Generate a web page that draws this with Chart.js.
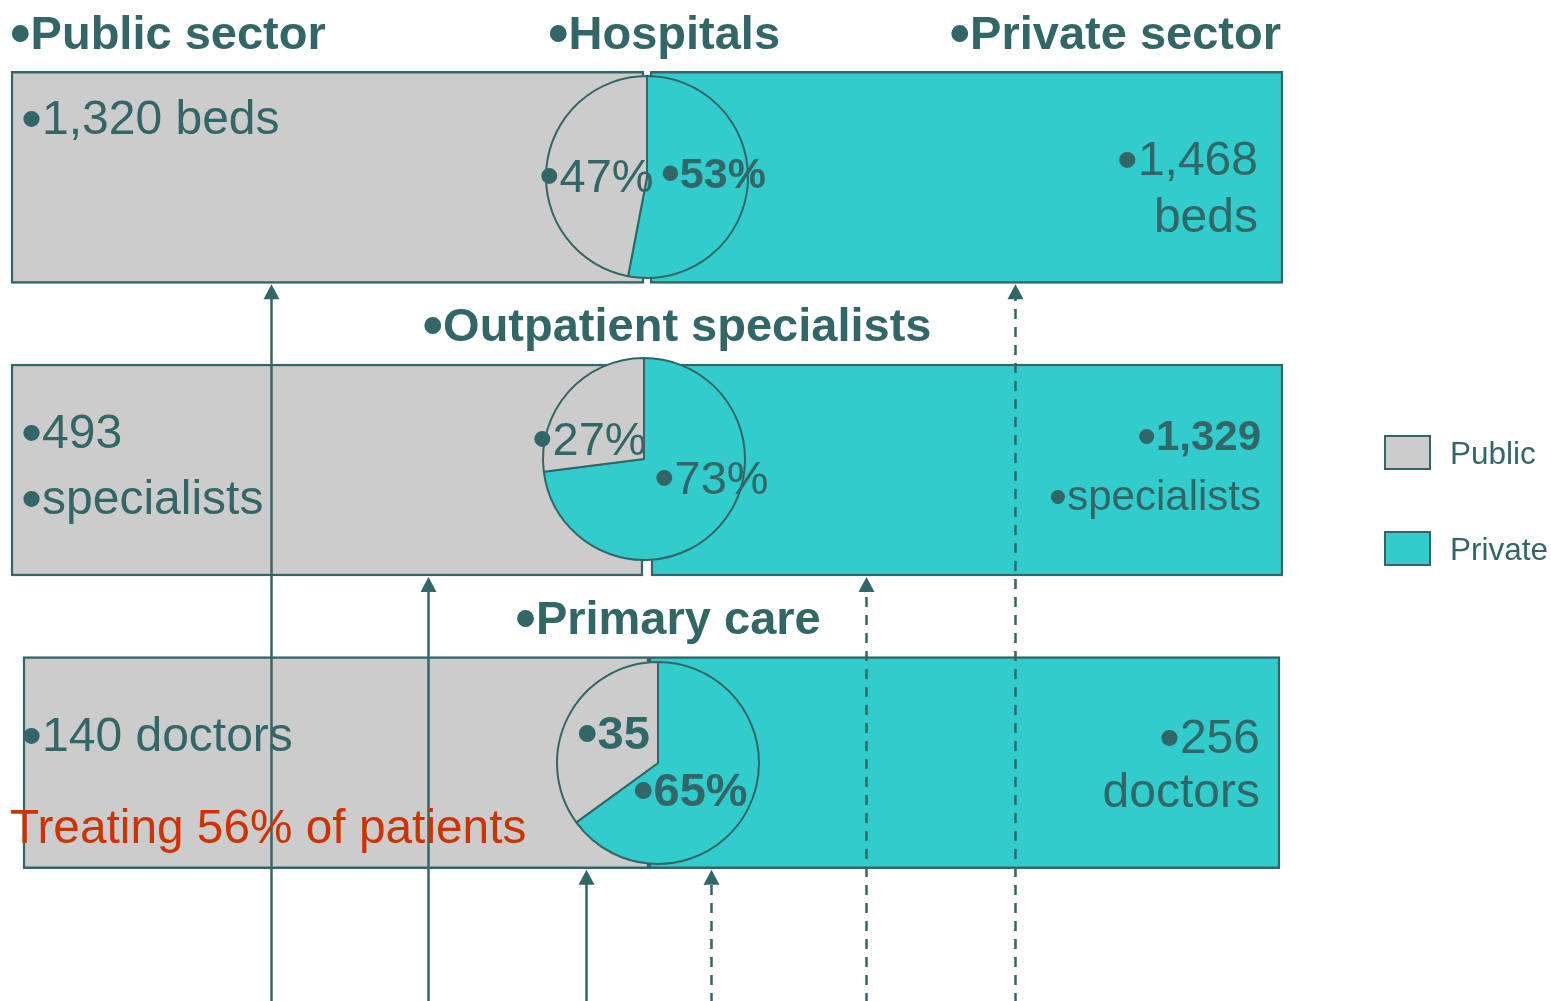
<!DOCTYPE html>
<html>
<head>
<meta charset="utf-8">
<script src="https://cdn.jsdelivr.net/npm/chart.js@4.4.1/dist/chart.umd.min.js"></script>
<style>
html,body{margin:0;padding:0;background:#ffffff;}
#wrap{position:relative;width:1551px;height:1001px;overflow:hidden;font-family:"Liberation Sans",Arial,sans-serif;color:#336666;}
#main{position:absolute;left:0;top:0;}
.pie{position:absolute;}
.t{position:absolute;white-space:nowrap;line-height:1;}
.t .b{font-size:1.25em;position:relative;top:0.07em;line-height:0;}
.lg{position:absolute;box-sizing:border-box;border:2.5px solid #336666;}
</style>
</head>
<body>
<div id="wrap"><canvas id="main" width="1551" height="1001"></canvas></div>
<script>
// ---------- DATA ----------
const categories = ['Hospitals', 'Outpatient specialists', 'Primary care'];
const seriesNames = ['Public', 'Private'];
const sectorTitles = ['Public sector', 'Private sector'];
const publicCounts = [1320, 493, 140];
const privateCounts = [1468, 1329, 256];
const countUnits = ['beds', 'specialists', 'doctors'];
const publicShare = [47, 27, 35];
const privateShare = [53, 73, 65];
const patientNote = 'Treating 56% of patients';

// ---------- LAYOUT / STYLE ----------
const W = 1551, H = 1001;
const SPLIT_PX = 647, HALF_PX = 633;          // x-scale: 0 = split, 1 = one panel width
const INK = '#336666', GREY = '#CCCCCC', TEAL = '#33CCCC', RED = '#CC3300';
const panelSpans = [                            // panel extents in panel units
  { pub: [-1.0047, -0.0047], priv: [0.0047, 1.0047] },
  { pub: [-1.0047, -0.0063], priv: [0.0063, 1.0047] },
  { pub: [-0.9858, 0.0032], priv: [0.0032, 1.0] }
];
const pieShift = [[0, 0], [-3, -11.5], [11, 0]];
const flows = [                                 // arrows into the panels
  { x: -0.594, row: 0, dashed: false },
  { x: -0.346, row: 1, dashed: false },
  { x: -0.0964, row: 2, dashed: false },
  { x: 0.1011, row: 2, dashed: true },
  { x: 0.346, row: 1, dashed: true },
  { x: 0.581, row: 0, dashed: true }
];
const BAR_T = 212;

const fmt = n => n.toLocaleString('en-US');

const arrowPlugin = {
  id: 'flows',
  afterDatasetsDraw(chart) {
    const ctx = chart.ctx, xs = chart.scales.x, ys = chart.scales.y;
    ctx.save();
    ctx.strokeStyle = INK; ctx.fillStyle = INK; ctx.lineWidth = 2.5;
    flows.forEach(f => {
      const px = Math.round(xs.getPixelForValue(f.x)) + 0.5;
      const tip = ys.getPixelForValue(f.row) + BAR_T / 2 + 1;
      const head = 15;
      ctx.beginPath();
      ctx.setLineDash(f.dashed ? [10, 8] : []);
      ctx.moveTo(px, H + 2);
      ctx.lineTo(px, tip + head - 1);
      ctx.stroke();
      ctx.setLineDash([]);
      ctx.beginPath();
      ctx.moveTo(px, tip);
      ctx.lineTo(px - 8, tip + head);
      ctx.lineTo(px + 8, tip + head);
      ctx.closePath();
      ctx.fill();
    });
    ctx.restore();
  }
};

const main = new Chart(document.getElementById('main'), {
  type: 'bar',
  data: {
    labels: categories,
    datasets: [
      { label: seriesNames[0], data: categories.map((c, i) => panelSpans[i].pub),
        backgroundColor: GREY, borderColor: INK, borderWidth: 2.5, borderSkipped: false,
        grouped: false, barThickness: BAR_T },
      { label: seriesNames[1], data: categories.map((c, i) => panelSpans[i].priv),
        backgroundColor: TEAL, borderColor: INK, borderWidth: 2.5, borderSkipped: false,
        grouped: false, barThickness: BAR_T }
    ]
  },
  options: {
    indexAxis: 'y',
    responsive: false,
    animation: false,
    devicePixelRatio: 1,
    layout: { padding: { top: 31, bottom: 92, left: 0, right: 0 } },
    scales: {
      x: { type: 'linear', min: -SPLIT_PX / HALF_PX, max: (W - SPLIT_PX) / HALF_PX, display: false },
      y: { type: 'category', display: false, offset: true }
    },
    plugins: { legend: { display: false }, tooltip: { enabled: false } }
  },
  plugins: [arrowPlugin]
});

const wrap = document.getElementById('wrap');

// ---------- PIES ----------
const PIE_BOX = 240;
categories.forEach((c, i) => {
  const cx = main.scales.x.getPixelForValue(0) + pieShift[i][0];
  const cy = main.scales.y.getPixelForValue(i) + pieShift[i][1];
  const cv = document.createElement('canvas');
  cv.className = 'pie';
  cv.width = PIE_BOX; cv.height = PIE_BOX;
  cv.style.left = (cx - PIE_BOX / 2) + 'px';
  cv.style.top = (cy - PIE_BOX / 2) + 'px';
  wrap.appendChild(cv);
  new Chart(cv, {
    type: 'pie',
    data: {
      labels: [seriesNames[1], seriesNames[0]],
      datasets: [{ data: [privateShare[i], publicShare[i]], backgroundColor: [TEAL, GREY],
                   borderColor: INK, borderWidth: 2, radius: 101 }]
    },
    options: { responsive: false, animation: false, devicePixelRatio: 1,
               layout: { padding: 0 },
               plugins: { legend: { display: false }, tooltip: { enabled: false } } }
  });
});

// ---------- TEXT ----------
const B = '\u2022';
function txt(s, x, base, o) {
  o = o || {};
  const size = o.size || 48;
  const d = document.createElement('div');
  d.className = 't';
  if (s.startsWith(B)) {
    const sp = document.createElement('span');
    sp.className = 'b';
    sp.textContent = B;
    d.appendChild(sp);
    d.appendChild(document.createTextNode(s.slice(1)));
  } else {
    d.textContent = s;
  }
  d.style.fontSize = size + 'px';
  d.style.fontWeight = o.bold ? 'bold' : 'normal';
  if (o.color) d.style.color = o.color;
  d.style.top = (base - 0.8465 * size) + 'px';
  if (o.align === 'right') d.style.right = (W - x) + 'px';
  else if (o.align === 'center') { d.style.left = x + 'px'; d.style.transform = 'translateX(-50%)'; }
  else d.style.left = x + 'px';
  wrap.appendChild(d);
}
const HS = 47;
txt(B + sectorTitles[0], 10, 49, { bold: true, size: HS });
txt(B + categories[0], 664, 49, { bold: true, size: HS, align: 'center' });
txt(B + sectorTitles[1], 1281, 49, { bold: true, size: HS, align: 'right' });
txt(B + categories[1], 677, 341, { bold: true, size: HS, align: 'center' });
txt(B + categories[2], 668, 634, { bold: true, size: HS, align: 'center' });

// Hospitals row
txt(B + fmt(publicCounts[0]) + ' ' + countUnits[0], 21, 135);
txt(B + publicShare[0] + '%', 539, 192, { size: 47 });
txt(B + privateShare[0] + '%', 661, 188, { bold: true, size: 43 });
txt(B + fmt(privateCounts[0]), 1258, 176, { align: 'right' });
txt(countUnits[0], 1258, 233, { align: 'right' });

// Outpatient row
txt(B + fmt(publicCounts[1]), 21, 449);
txt(B + countUnits[1], 21, 515);
txt(B + publicShare[1] + '%', 532, 455, { size: 47 });
txt(B + privateShare[1] + '%', 654, 494, { size: 47 });
txt(B + fmt(privateCounts[1]), 1261, 451, { bold: true, size: 42, align: 'right' });
txt(B + countUnits[1], 1261, 511, { size: 42, align: 'right' });

// Primary care row
txt(B + fmt(publicCounts[2]) + ' ' + countUnits[2], 21, 752);
txt(patientNote, 10, 843, { color: RED, size: 47.8 });
txt(B + publicShare[2], 577, 749, { bold: true, size: 47 });
txt(B + privateShare[2] + '%', 633, 806, { bold: true, size: 47 });
txt(B + fmt(privateCounts[2]), 1260, 754, { align: 'right' });
txt(countUnits[2], 1260, 808, { align: 'right' });

// ---------- LEGEND (from datasets) ----------
main.data.datasets.forEach((ds, k) => {
  const top = 435 + k * 96;
  const b = document.createElement('div');
  b.className = 'lg';
  b.style.left = '1384px'; b.style.top = top + 'px';
  b.style.width = '47px'; b.style.height = '35px';
  b.style.background = ds.backgroundColor;
  wrap.appendChild(b);
  txt(ds.label, 1450, top + 30, { size: 31.5 });
});
</script>
</body>
</html>
